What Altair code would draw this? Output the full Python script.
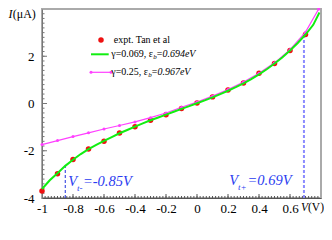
import altair as alt
import pandas as pd

# ---------------- data ----------------
expt_v = [-1.0, -0.9, -0.8, -0.7, -0.6, -0.5, -0.4, -0.3, -0.2, -0.1,
          0.0, 0.1, 0.2, 0.3, 0.4, 0.5, 0.6, 0.7]
expt_i = [-3.70, -2.97, -2.37, -1.93, -1.60, -1.25, -0.98, -0.71, -0.48, -0.21,
          0.02, 0.28, 0.57, 0.87, 1.28, 1.69, 2.24, 2.92]

fit1_v = [-1.0, -0.95, -0.9, -0.85, -0.8, -0.75, -0.7, -0.65, -0.6, -0.55,
          -0.5, -0.45, -0.4, -0.35, -0.3, -0.25, -0.2, -0.15, -0.1, -0.05,
          0.0, 0.05, 0.1, 0.15, 0.2, 0.25, 0.3, 0.35, 0.4, 0.45,
          0.5, 0.55, 0.6, 0.65, 0.7, 0.75, 0.79]
fit1_i = [-3.62, -3.25, -2.95, -2.64, -2.38, -2.14, -1.93, -1.75, -1.58, -1.42,
          -1.26, -1.12, -0.98, -0.84, -0.71, -0.59, -0.47, -0.35, -0.23, -0.11,
          0.01, 0.13, 0.26, 0.40, 0.54, 0.69, 0.85, 1.03, 1.23, 1.45,
          1.69, 1.95, 2.24, 2.56, 2.92, 3.33, 3.85]

fit2_v = [-1.0, -0.9, -0.8, -0.7, -0.6, -0.5, -0.4, -0.3, -0.2, -0.1,
          0.0, 0.1, 0.2, 0.3, 0.4, 0.5, 0.6, 0.7, 0.785]
fit2_i = [-1.74, -1.57, -1.40, -1.24, -1.08, -0.93, -0.78, -0.60, -0.40, -0.16,
          0.06, 0.31, 0.59, 0.91, 1.28, 1.72, 2.28, 3.02, 4.0]

vt_v = [-0.85, 0.69]
vt_i = [-2.62, 2.88]

x_domain = [-1.0, 0.8]
y_domain = [-4.0, 4.0]
x_labels = [-1, -0.8, -0.6, -0.4, -0.2, 0, 0.2, 0.4, 0.6]
y_labels = [-4, -2, 0, 2]
x_major = [-0.8, -0.6, -0.4, -0.2, 0, 0.2, 0.4, 0.6]
y_major = [-2, 0, 2]
x_minor = [round(-1 + 0.02 * k, 2) for k in range(1, 90)]
y_minor = [round(-4 + 0.2 * k, 1) for k in range(1, 40)]

legend_texts = ["expt. Tan et al", "\u03b3=0.069, \u03b5", "0.694eV", "\u03b3=0.25, \u03b5", "0.967eV"]

# ---------------- layout / style ----------------
W, H = 279, 189
F = "Times New Roman, Liberation Serif, serif"
BLUE = "#2a3cf0"

x_scale = alt.Scale(domain=x_domain, nice=False, zero=False)
y_scale = alt.Scale(domain=y_domain, nice=False, zero=False)

x_axis = alt.Axis(values=x_labels, labelExpr="'' + datum.value", ticks=False, tickSize=0,
                  grid=False, title=None, domainColor="#555555", labelFont=F,
                  labelFontSize=13, labelColor="black", labelPadding=4,
                  labelFlush=False, labelOverlap=False)
y_axis = alt.Axis(values=y_labels, labelExpr="'' + datum.value", ticks=False, tickSize=0,
                  grid=False, title=None, domainColor="#777777", labelFont=F,
                  labelFontSize=13, labelColor="black", labelPadding=8,
                  labelFlush=False, labelOverlap=False)


def X(f):
    return alt.X(f, type="quantitative", scale=x_scale, axis=x_axis)


def Y(f):
    return alt.Y(f, type="quantitative", scale=y_scale, axis=y_axis)


def txt(s, x, y, size, italic=False, color="black", baseline="alphabetic", align="left"):
    return alt.Chart(alt.Data(values=[{"k": 0}])).mark_text(
        text=s, font=F, fontSize=size, fontStyle="italic" if italic else "normal",
        color=color, align=align, baseline=baseline
    ).encode(x=alt.value(x), y=alt.value(y))


def one():
    return alt.Chart(alt.Data(values=[{"k": 0}]))


expt = pd.DataFrame({"v": expt_v, "i": expt_i})
fit1 = pd.DataFrame({"v": fit1_v, "i": fit1_i})
fit2 = pd.DataFrame({"v": fit2_v, "i": fit2_i})
vt = pd.DataFrame({"v": vt_v, "i": vt_i, "base": [y_domain[0]] * 2})

layers = []

# inward ticks
layers.append(alt.Chart(pd.DataFrame({"v": x_minor})).mark_rule(color="#555555", strokeWidth=1)
              .encode(x=X("v"), y=alt.value(H), y2=alt.value(H - 2)))
layers.append(alt.Chart(pd.DataFrame({"v": x_major})).mark_rule(color="#555555", strokeWidth=1)
              .encode(x=X("v"), y=alt.value(H), y2=alt.value(H - 4)))
layers.append(alt.Chart(pd.DataFrame({"v": y_minor})).mark_rule(color="#777777", strokeWidth=1)
              .encode(y=Y("v"), x=alt.value(0), x2=alt.value(2.5)))
layers.append(alt.Chart(pd.DataFrame({"v": y_major})).mark_rule(color="#777777", strokeWidth=1)
              .encode(y=Y("v"), x=alt.value(0), x2=alt.value(5)))

# threshold dashed lines
layers.append(alt.Chart(vt.iloc[[0]]).mark_rule(color="#2233dd", strokeWidth=1, strokeDash=[3, 2])
              .encode(x=X("v"), y=Y("base"), y2="i"))
layers.append(alt.Chart(vt.iloc[[1]]).mark_rule(color="#8c8cff", strokeWidth=2, strokeDash=[3, 2])
              .encode(x=X("v"), y=Y("base"), y2="i"))

# data
layers.append(alt.Chart(expt).mark_circle(color="#ee1111", size=30, opacity=1)
              .encode(x=X("v"), y=Y("i")))
layers.append(alt.Chart(fit2).mark_line(color="#ff40ff", strokeWidth=1.2,
                                        point=alt.OverlayMarkDef(color="#ff40ff", size=9, filled=True, opacity=1))
              .encode(x=X("v"), y=Y("i")))
layers.append(alt.Chart(fit1).mark_line(color="#11ee11", strokeWidth=2)
              .encode(x=X("v"), y=Y("i")))

# legend
layers.append(one().mark_circle(color="#ee1111", size=30, opacity=1).encode(x=alt.value(59), y=alt.value(31)))
layers.append(txt(legend_texts[0], 71.7, 31, 10, baseline="middle"))
layers.append(one().mark_rule(color="#11ee11", strokeWidth=2)
              .encode(x=alt.value(49), x2=alt.value(66.7), y=alt.value(45.3)))
layers.append(txt(legend_texts[1], 69.3, 45.3, 10, baseline="middle"))
layers.append(txt("b", 111.3, 48.3, 7, italic=True, baseline="middle"))
layers.append(txt("=", 114.8, 45.3, 10, baseline="middle"))
layers.append(txt(legend_texts[2], 120.4, 45.3, 10, italic=True, baseline="middle"))
layers.append(one().mark_rule(color="#ff40ff", strokeWidth=1.2)
              .encode(x=alt.value(49), x2=alt.value(69), y=alt.value(63.3)))
layers.append(one().mark_circle(color="#ff40ff", size=9, opacity=1).encode(x=alt.value(49), y=alt.value(63.3)))
layers.append(one().mark_circle(color="#ff40ff", size=9, opacity=1).encode(x=alt.value(69), y=alt.value(63.3)))
layers.append(txt(legend_texts[3], 69.3, 63.3, 10, baseline="middle"))
layers.append(txt("b", 106.3, 66.3, 7, italic=True, baseline="middle"))
layers.append(txt("=", 109.8, 63.3, 10, baseline="middle"))
layers.append(txt(legend_texts[4], 115.4, 63.3, 10, italic=True, baseline="middle"))

# threshold annotations
layers.append(txt("V", 26.3, 177, 14.5, italic=True, color=BLUE))
layers.append(txt("t-", 35, 182, 9, italic=True, color=BLUE))
layers.append(txt("=%sV" % vt_v[0], 41, 177, 14.5, italic=True, color=BLUE))
layers.append(txt("V", 187.3, 176, 14.5, italic=True, color=BLUE))
layers.append(txt("t+", 196, 181, 9, italic=True, color=BLUE))
layers.append(txt("=%sV" % vt_v[1], 205.5, 176, 14.5, italic=True, color=BLUE))

# axis titles replacing the last tick labels
layers.append(txt("I", -33.5, 5, 12, italic=True, baseline="middle"))
layers.append(txt("(\u03bcA)", -29.3, 5, 12, baseline="middle"))
layers.append(txt("V", 259, 199, 11.5, italic=True, baseline="middle"))
layers.append(txt("(V)", 266, 199, 11.5, baseline="middle"))

chart = alt.layer(*layers).properties(
    width=W, height=H,
    autosize=alt.AutoSizeParams(type="none"),
    padding={"left": 34, "top": 1, "right": 3, "bottom": 26},
).configure_view(stroke="#aaaaaa", strokeWidth=2)

chart.save("out.html", embed_options={"renderer": "svg", "actions": False})
